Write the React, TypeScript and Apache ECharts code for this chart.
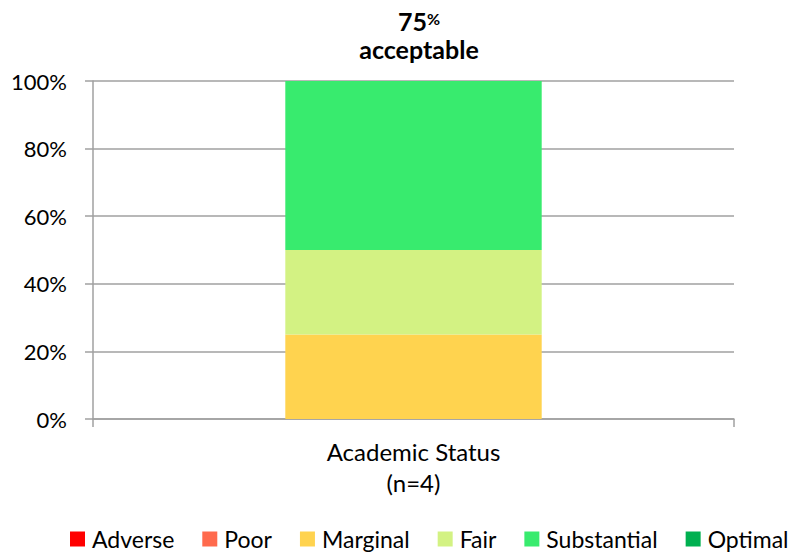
import React, { useEffect, useRef } from "react";
import * as echarts from "echarts";

const categories = ["Academic Status\n(n=4)"];
const seriesNames = ["Adverse", "Poor", "Marginal", "Fair", "Substantial", "Optimal"];
const seriesColors = ["#FF0000", "#FF6A4D", "#FFD34F", "#D3F283", "#38EB6E", "#00B050"];
const seriesValues = [[0], [0], [25], [25], [50], [0]];
const titleValue = "75";
const titleLabel = "acceptable";

export default function App() {
  const ref = useRef<HTMLDivElement>(null);
  useEffect(() => {
    if (!ref.current) return;
    const chart = echarts.init(ref.current, null, { renderer: "svg" });
    const font = "Lato, 'Open Sans', sans-serif";
    chart.setOption({
      animation: false,
      textStyle: { fontFamily: font },
      title: {
        text: `{a|${titleValue}}{p|%}\n{a|${titleLabel}}`,
        left: 414,
        top: 2,
        textAlign: "center",
        textStyle: {
          rich: {
            a: { fontSize: 25, fontWeight: "bold", color: "#000", lineHeight: 28, fontFamily: font },
            p: { fontSize: 16, fontWeight: "bold", color: "#000", lineHeight: 28, fontFamily: font, padding: [0, 0, 6, 0] },
          },
        },
      },
      legend: {
        left: 70,
        top: 526,
        padding: 0,
        itemWidth: 15,
        itemHeight: 15,
        itemGap: 28,
        icon: "rect",
        data: seriesNames,
        textStyle: { fontSize: 23, color: "#000", fontFamily: font, lineHeight: 26, padding: [0, 0, 0, 2] },
      },
      grid: { left: 93, right: 65, top: 81, bottom: 135, containLabel: false },
      xAxis: {
        type: "category",
        data: categories,
        boundaryGap: true,
        axisLine: { show: true, lineStyle: { color: "#A0A0A0", width: 1.5 } },
        axisTick: { show: true, length: 8, alignWithLabel: false, lineStyle: { color: "#A0A0A0", width: 1.5 } },
        axisLabel: { fontSize: 24, color: "#000", lineHeight: 31, margin: 17, fontFamily: font },
      },
      yAxis: {
        type: "value",
        min: 0,
        max: 100,
        interval: 20,
        axisLine: { show: true, lineStyle: { color: "#A0A0A0", width: 1.5 } },
        axisTick: { show: true, length: 8, lineStyle: { color: "#A0A0A0", width: 1.5 } },
        splitLine: { show: true, lineStyle: { color: "#A0A0A0", width: 1.5 } },
        axisLabel: { formatter: "{value}%", fontSize: 22, color: "#000", margin: 26, fontFamily: font },
      },
      series: seriesNames.map((name, i) => ({
        name,
        type: "bar",
        stack: "total",
        barWidth: "40%",
        data: seriesValues[i],
        itemStyle: { color: seriesColors[i] },
      })),
    });
    return () => chart.dispose();
  }, []);
  return <div ref={ref} style={{ position: "absolute", left: 0, top: 0, width: 799, height: 554 }} />;
}
